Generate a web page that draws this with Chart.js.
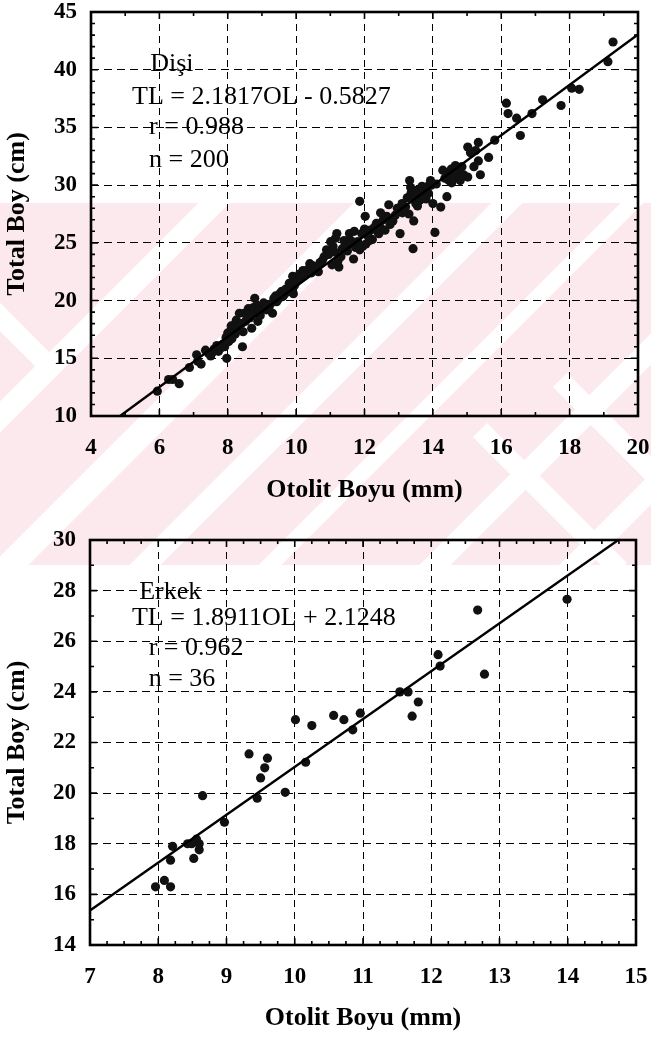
<!DOCTYPE html>
<html>
<head>
<meta charset="utf-8">
<title>Otolit Boyu - Total Boy</title>
<script src="https://cdn.jsdelivr.net/npm/chart.js@4.4.0/dist/chart.umd.min.js"></script>
<style>
  html, body { margin: 0; padding: 0; background: #fff; }
  #sayfa { position: relative; width: 651px; height: 1039px; overflow: hidden; }
  #zemin { position: absolute; left: 0; top: 0; }
  #grafik1 { position: absolute; left: 0; top: 0; }
  #grafik2 { position: absolute; left: 0; top: 520px; }
</style>
</head>
<body>
<div id="sayfa">
  <canvas id="zemin" width="651" height="1039"></canvas>
  <canvas id="grafik1" width="651" height="520"></canvas>
  <canvas id="grafik2" width="651" height="519"></canvas>
</div>
<script>
// Dişi bireyler: [otolit boyu (mm), total boy (cm)]
var disiNoktalar = [
  [5.94,12.15],[6.27,13.16],[6.39,13.16],[6.58,12.8],[6.88,14.2],[7.09,15.3],[7.12,14.75],[7.22,14.5],
  [7.43,15.45],[7.5,15.2],[7.6,15.8],[7.73,15.6],[7.79,15.9],[7.91,16.0],[7.97,15.0],[8.03,16.45],
  [8.1,17.8],[8.16,17.2],[8.22,17.1],[8.28,17.6],[8.43,16.0],[8.34,18.9],[8.52,18.2],[8.64,18.5],
  [8.7,17.6],[8.79,20.2],[8.82,19.0],[8.88,18.2],[9.0,19.5],[9.13,19.2],[9.31,18.9],[9.35,20.2],
  [9.43,19.9],[9.52,20.6],[9.61,20.35],[9.73,20.75],[9.86,21.2],[9.92,20.6],[9.9,22.1],[10.04,21.8],
  [10.16,22.05],[10.28,22.4],[10.4,23.2],[10.53,22.65],[10.65,22.5],[10.77,23.5],[10.89,24.4],[11.01,25.1],
  [11.13,24.2],[11.19,25.8],[11.25,22.9],[11.31,23.8],[11.44,24.9],[11.56,25.8],[11.68,23.6],[11.74,24.6],
  [11.86,24.4],[11.86,28.6],[11.92,25.8],[12.02,27.3],[12.04,24.9],[12.17,26.1],[12.23,25.3],[12.35,26.7],
  [12.42,25.8],[12.47,27.6],[12.6,26.1],[12.71,28.3],[12.83,26.9],[12.96,28.0],[13.04,25.8],[13.11,27.6],
  [13.2,28.1],[13.32,30.4],[13.36,29.3],[13.42,24.5],[13.44,26.9],[13.5,28.4],[13.56,29.6],[13.62,28.7],
  [13.68,29.9],[13.75,29.0],[13.87,29.3],[13.93,30.4],[14.0,28.4],[14.06,25.9],[14.23,28.1],[14.29,31.3],
  [14.41,29.0],[14.47,30.4],[14.54,31.4],[14.6,31.0],[14.66,31.7],[14.72,30.7],[14.78,31.3],[15.02,30.7],
  [15.02,33.3],[15.33,33.7],[15.33,32.1],[15.39,30.9],[15.63,32.4],[15.81,33.9],[16.15,37.1],[16.2,36.2],
  [16.45,35.8],[16.56,34.3],[16.9,36.2],[17.21,37.4],[17.75,36.9],[18.06,38.4],[18.28,38.3],[19.12,40.7],
  [19.27,42.4],
  // yoğun bölgedeki üst üste binen noktalar
  [7.35,15.7],[7.55,15.5],[7.68,16.1],[7.85,16.2],[7.95,16.8],[8.0,17.2],[8.05,17.0],[8.12,16.7],
  [8.2,17.9],[8.25,18.3],[8.4,18.0],[8.45,17.3],[8.48,18.9],[8.58,18.9],[8.6,19.3],[8.68,18.9],
  [8.75,19.4],[8.85,19.6],[8.92,19.1],[8.95,18.7],[9.05,19.8],[9.1,19.5],[9.2,19.3],[9.25,19.7],
  [9.4,20.4],[9.47,20.1],[9.58,20.8],[9.65,20.5],[9.7,21.0],[9.8,21.5],[9.95,21.3],[10.0,21.6],
  [10.1,22.3],[10.2,22.6],[10.25,22.2],[10.35,22.7],[10.45,22.4],[10.5,23.0],[10.6,22.9],[10.7,23.3],
  [10.82,23.8],[10.95,24.0],[11.05,23.1],[11.08,24.7],[11.15,25.4],[11.22,23.4],[11.35,24.5],[11.4,25.2],
  [11.5,24.3],[11.6,25.2],[11.65,24.9],[11.7,26.0],[11.8,25.1],[11.95,24.7],[12.0,26.2],[12.1,25.6],
  [12.15,25.2],[12.28,26.3],[12.38,26.0],[12.45,26.4],[12.55,27.0],[12.65,27.3],[12.75,26.6],[12.9,27.4],
  [13.1,28.4],[13.25,28.9],[13.3,27.5],[13.35,29.8],[13.45,28.9],[13.48,29.2],[13.55,28.2],[13.6,29.3],
  [13.65,28.9],[13.7,29.6],[13.8,28.8],[13.85,29.9],[13.95,30.0],[14.1,30.1],[14.35,30.6],[14.45,31.1],
  [14.5,30.9],[14.55,30.2],[14.62,31.5],[14.7,31.0],[14.8,30.4],[14.85,31.6],[14.9,30.9],[15.1,32.8],
  [15.2,31.6],[15.25,33.0]
];

// Erkek bireyler: [otolit boyu (mm), total boy (cm)]
var erkekNoktalar = [
  [7.96,16.3],[8.09,16.55],[8.18,16.3],[8.18,17.35],[8.21,17.9],[8.43,18.0],[8.49,18.0],[8.52,17.42],
  [8.55,18.1],[8.56,18.18],[8.6,18.0],[8.6,17.76],[8.65,19.9],[8.97,18.85],[9.33,21.55],[9.45,19.8],
  [9.5,20.6],[9.56,21.0],[9.6,21.38],[9.86,20.03],[10.01,22.9],[10.16,21.22],[10.25,22.67],[10.57,23.07],
  [10.72,22.9],[10.85,22.5],[10.96,23.16],[11.54,24.0],[11.66,24.0],[11.72,23.04],[11.81,23.6],[12.1,25.47],
  [12.13,25.02],[12.68,27.23],[12.78,24.7],[13.99,27.66]
];

// regresyon katsayıları: [eğim, sabit]
var disiDenklem = [2.1817, -0.5827];
var erkekDenklem = [1.8911, 2.1248];

// eksen aralıkları: [min, max, adım, ara çentik adımı]
var disiX = [4, 20, 2, 1];
var disiY = [10, 45, 5, 1];
var erkekX = [7, 15, 1, 0.25];
var erkekY = [14, 30, 2, 1];

var disiYazilar = ['Dişi', 'TL = 2.1817OL - 0.5827', 'r = 0.988', 'n = 200'];
var erkekYazilar = ['Erkek', 'TL = 1.8911OL + 2.1248', 'r = 0.962', 'n = 36'];

var SERIF = '"Liberation Serif", "Times New Roman", serif';

// denklem doğrusunu eksen sınırları içinde kalacak şekilde iki uç noktayla çiz
function dogruUclari(denklem, xr, yr) {
  var a = denklem[0], b = denklem[1];
  var x0 = Math.max(xr[0], (yr[0] - b) / a);
  var x1 = Math.min(xr[1], (yr[1] - b) / a);
  return [{x: x0, y: a * x0 + b}, {x: x1, y: a * x1 + b}];
}

// etiket taşması için eklenen otomatik boşlukları kaldır
function boslukSifirla(s) {
  s.paddingTop = 0; s.paddingBottom = 0; s.paddingLeft = 0; s.paddingRight = 0;
}

// çerçeve, içe dönük çentikler ve denklem yazıları
var cerceve = {
  id: 'cerceve',
  afterDraw: function(chart, args, opts) {
    var ctx = chart.ctx, ca = chart.chartArea;
    var xs = chart.scales.x, ys = chart.scales.y;
    ctx.save();
    ctx.strokeStyle = '#000';
    ctx.lineWidth = 1.6;
    ctx.beginPath();
    var v, p, uzun;
    for (v = xs.min; v <= xs.max + 1e-9; v += opts.xAra) {
      p = xs.getPixelForValue(v);
      uzun = Math.abs(Math.round(v / opts.xAdim) * opts.xAdim - v) < 1e-6 ? 7 : 4;
      ctx.moveTo(p, ca.bottom); ctx.lineTo(p, ca.bottom - uzun);
      ctx.moveTo(p, ca.top); ctx.lineTo(p, ca.top + uzun);
    }
    for (v = ys.min; v <= ys.max + 1e-9; v += opts.yAra) {
      p = ys.getPixelForValue(v);
      uzun = Math.abs(Math.round(v / opts.yAdim) * opts.yAdim - v) < 1e-6 ? 7 : 4;
      ctx.moveTo(ca.left, p); ctx.lineTo(ca.left + uzun, p);
      ctx.moveTo(ca.right, p); ctx.lineTo(ca.right - uzun, p);
    }
    ctx.stroke();
    ctx.lineWidth = 2.6;
    ctx.strokeRect(ca.left, ca.top, ca.right - ca.left, ca.bottom - ca.top);

    ctx.fillStyle = '#000';
    ctx.font = '26px ' + SERIF;
    ctx.textBaseline = 'middle';
    ctx.textAlign = 'left';
    opts.yazilar.forEach(function(y, i) {
      var yer = opts.yerler[i];
      ctx.fillText(y, xs.getPixelForValue(yer[0]), ys.getPixelForValue(yer[1]));
    });
    ctx.restore();
  }
};

function grafikAyari(noktalar, denklem, xr, yr, yazilar, yerler, alan) {
  var tickFont = {family: SERIF, size: 23, weight: 'bold'};
  var titleFont = {family: SERIF, size: 26, weight: 'bold'};
  return {
    type: 'scatter',
    data: {
      datasets: [
        {
          data: noktalar.map(function(n) { return {x: n[0], y: n[1]}; }),
          pointRadius: 4.6,
          pointHoverRadius: 4.6,
          pointBackgroundColor: '#111',
          pointBorderWidth: 0,
          order: 2
        },
        {
          type: 'line',
          data: dogruUclari(denklem, xr, yr),
          borderColor: '#000',
          borderWidth: 2.4,
          pointRadius: 0,
          fill: false,
          order: 1
        }
      ]
    },
    options: {
      responsive: false,
      animation: false,
      events: [],
      layout: {padding: {top: alan.ust, right: alan.sag, left: 0, bottom: 0}},
      plugins: {
        legend: {display: false},
        tooltip: {enabled: false},
        cerceve: {
          xAdim: xr[2], xAra: xr[3], yAdim: yr[2], yAra: yr[3],
          yazilar: yazilar, yerler: yerler
        }
      },
      scales: {
        x: {
          type: 'linear',
          min: xr[0], max: xr[1],
          ticks: {stepSize: xr[2], color: '#000', font: tickFont, padding: alan.xEtiket, maxRotation: 0},
          grid: {color: '#000', lineWidth: 1, drawTicks: false},
          border: {display: false, dash: [7, 5]},
          title: {display: true, text: 'Otolit Boyu (mm)', color: '#000', font: titleFont,
                  padding: {top: 0, bottom: alan.xBaslik}},
          afterFit: function(s) { s.height = alan.xYukseklik; boslukSifirla(s); }
        },
        y: {
          type: 'linear',
          min: yr[0], max: yr[1],
          ticks: {stepSize: yr[2], color: '#000', font: tickFont, padding: 14},
          grid: {color: '#000', lineWidth: 1, drawTicks: false},
          border: {display: false, dash: [8, 5]},
          title: {display: true, text: 'Total Boy (cm)', color: '#000', font: titleFont,
                  padding: {top: 2, bottom: 0}},
          afterFit: function(s) { s.width = alan.sol; boslukSifirla(s); }
        }
      }
    },
    plugins: [cerceve]
  };
}

// arka plandaki soluk pembe filigran: pembe şerit üzerinde beyaz çapraz bantlar
function zeminCiz() {
  var c = document.getElementById('zemin').getContext('2d');
  c.fillStyle = '#ffffff';
  c.fillRect(0, 0, 651, 1039);
  c.save();
  c.beginPath();
  c.rect(0, 203, 651, 362);
  c.clip();
  c.fillStyle = '#fce9ed';
  c.fillRect(0, 203, 651, 362);
  c.strokeStyle = '#ffffff';
  // "/" yönlü bantlar (x + y = sabit)
  [[417, 22], [575, 26], [710, 22], [835, 16], [1000, 22], [1140, 22]].forEach(function(b) {
    c.lineWidth = b[1];
    c.beginPath(); c.moveTo(b[0] - 700, 700); c.lineTo(b[0] - 150, 150); c.stroke();
  });
  // "\" yönlü kısa bantlar (x - y = sabit)
  c.lineWidth = 20;
  c.beginPath(); c.moveTo(-20, 297); c.lineTo(48, 365); c.stroke();
  c.beginPath(); c.moveTo(480, 430); c.lineTo(620, 570); c.stroke();
  c.beginPath(); c.moveTo(560, 380); c.lineTo(660, 480); c.stroke();
  c.restore();
}

zeminCiz();

new Chart(document.getElementById('grafik1'), grafikAyari(
  disiNoktalar, disiDenklem, disiX, disiY, disiYazilar,
  [[5.73, 40.44], [5.2, 37.58], [5.7, 34.98], [5.7, 32.2]],
  {ust: 12, sag: 13, sol: 91, xYukseklik: 104, xEtiket: 18, xBaslik: 14}
));

new Chart(document.getElementById('grafik2'), grafikAyari(
  erkekNoktalar, erkekDenklem, erkekX, erkekY, erkekYazilar,
  [[7.72, 27.95], [7.615, 26.92], [7.86, 25.73], [7.86, 24.51]],
  {ust: 20, sag: 15, sol: 90, xYukseklik: 94, xEtiket: 18, xBaslik: 5}
));
</script>
</body>
</html>
